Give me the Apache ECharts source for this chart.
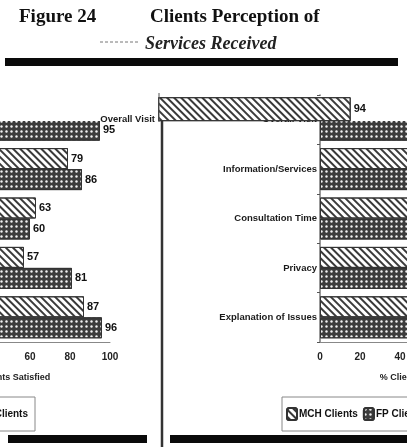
<!DOCTYPE html>
<html>
<head>
<meta charset="utf-8">
<script src="https://cdn.jsdelivr.net/npm/echarts@6/dist/echarts.min.js"></script>
<style>
  html, body { margin: 0; padding: 0; background: #fff; }
  #chart { width: 407px; height: 447px; }
</style>
</head>
<body>
<div id="chart"></div>
<script>
// categories (top to bottom)
var categories = ['Overall Visit', 'Information/Services', 'Consultation Time', 'Privacy', 'Explanation of Issues'];
// left panel (only the right end of that chart is visible)
var mchLeft = ['-', 79, 63, 57, 87];
var fpLeft = [95, 86, 60, 81, 96];
// right panel (bars run off the page, only 94 can be read)
var mchRight = [94, 85, 72, 76, 89];
var fpRight = [97, 91, 80, 86, 95];
var xTicks = [0, 20, 40, 60, 80, 100];

var chart = echarts.init(document.getElementById('chart'));

var LBL = 'Liberation Sans';
var top0 = 95, bottom0 = 105;

var mchStyle = {
  color: '#fff',
  borderColor: '#333',
  borderWidth: 1,
  decal: {
    symbol: 'rect',
    color: '#3a3a3a',
    dashArrayX: [1, 0],
    dashArrayY: [1.5, 3],
    rotation: Math.PI / 4
  }
};
var fpStyle = {
  color: '#3c3c3c',
  borderColor: '#333',
  borderWidth: 1,
  decal: {
    symbol: 'circle',
    symbolSize: 0.8,
    color: '#f2f2f2',
    dashArrayX: [3, 1.5],
    dashArrayY: [3, 1.5]
  }
};

function xAx(grid, showLine) {
  return {
    type: 'value', gridIndex: grid, min: 0, max: 100, interval: 20,
    splitLine: { show: false },
    axisTick: { show: false },
    axisLine: { show: showLine, lineStyle: { color: '#888', width: 1 } },
    axisLabel: { show: showLine, margin: 10, color: '#222', fontFamily: LBL, fontWeight: 'bold', fontSize: 10,
      formatter: function (v) { return xTicks.indexOf(v) >= 0 ? v : ''; } },
    name: showLine ? '% Clients Satisfied' : '',
    nameLocation: 'middle', nameGap: 31,
    nameTextStyle: { color: '#222', fontFamily: LBL, fontWeight: 'bold', fontSize: 9 }
  };
}
function yAx(grid, showLabels, only) {
  var strip = only != null;
  return {
    type: 'category', gridIndex: grid, data: categories, inverse: true,
    axisLine: { show: showLabels && !strip, lineStyle: { color: '#777', width: 1.5 } },
    axisTick: { show: showLabels && !strip, length: 3, lineStyle: { color: '#555' } },
    z: strip ? 10 : 0,
    axisLabel: {
      show: showLabels, margin: 3, color: '#1a1a1a', fontFamily: LBL, fontWeight: 'bold', fontSize: 9.5,
      formatter: function (v, i) { return (!strip || only === i) ? v : ''; }
    }
  };
}
var valLabel = { show: true, position: 'right', distance: 3, color: '#111', fontFamily: LBL, fontWeight: 'bold', fontSize: 11 };

function pick(arr, keep) {
  return arr.map(function (v, i) { return keep(i) ? v : '-'; });
}

var option = {
  backgroundColor: '#fff',
  animation: false,
  title: [
    { text: 'Figure 24', left: 14, top: 3, textStyle: { fontFamily: 'Liberation Serif', fontWeight: 'bold', fontSize: 19, color: '#111' } },
    { text: 'Clients Perception of', left: 145, top: 3, textStyle: { fontFamily: 'Liberation Serif', fontWeight: 'bold', fontSize: 19, color: '#111' } },
    { text: 'Services Received', left: 140, top: 30, textStyle: { fontFamily: 'Liberation Serif', fontWeight: 'bold', fontStyle: 'italic', fontSize: 18, color: '#222' } }
  ],
  legend: [
    { data: ['MCH Clients', 'FP Clients'], left: 282, top: 397, width: 300, padding: [10, 5, 10, 4],
      borderColor: '#888', borderWidth: 1, itemWidth: 10, itemHeight: 12, itemGap: 5,
      textStyle: { fontFamily: LBL, fontWeight: 'bold', fontSize: 10, color: '#111', padding: [0, 0, 0, -3] } },
    { data: ['MCH Clients', 'FP Clients'], right: 372, top: 397, width: 300, padding: [10, 7, 10, 4],
      borderColor: '#888', borderWidth: 1, itemWidth: 10, itemHeight: 12, itemGap: 5,
      textStyle: { fontFamily: LBL, fontWeight: 'bold', fontSize: 10, color: '#111', padding: [0, 0, 0, -3] } }
  ],
  grid: [
    { left: -90, width: 200, top: top0, bottom: bottom0, outerBoundsMode: 'none' },
    { left: 320, width: 200, top: top0, bottom: bottom0, outerBoundsMode: 'none' },
    { left: 158, width: 205, top: top0, bottom: bottom0, outerBoundsMode: 'none' }
  ],
  xAxis: [xAx(0, true), xAx(1, true), xAx(2, false)],
  yAxis: [yAx(0, false), yAx(1, true), yAx(2, true, 0)],
  graphic: [
    { type: 'rect', shape: { x: 5, y: 58, width: 393, height: 8 }, style: { fill: '#0a0a0a' } },
    { type: 'line', shape: { x1: 100, y1: 42, x2: 140, y2: 42 }, style: { stroke: '#777', lineWidth: 1, lineDash: [3, 2] } },
    { type: 'rect', shape: { x: 0, y: 96, width: 407, height: 25 }, style: { fill: '#fff' }, z: 5 },
    { type: 'line', shape: { x1: 159, y1: 93, x2: 159, y2: 122 }, style: { stroke: '#555', lineWidth: 1 }, z: 11 },
    { type: 'line', shape: { x1: 162, y1: 121, x2: 162, y2: 447 }, style: { stroke: '#333', lineWidth: 2.5 } },
    { type: 'rect', shape: { x: 8, y: 435, width: 139, height: 8 }, style: { fill: '#0a0a0a' } },
    { type: 'rect', shape: { x: 170, y: 435, width: 237, height: 8 }, style: { fill: '#0a0a0a' } }
  ],
  series: [
    { name: 'MCH Clients', type: 'bar', xAxisIndex: 0, yAxisIndex: 0, data: mchLeft, barWidth: 21, barGap: '0%', itemStyle: mchStyle, label: valLabel },
    { name: 'FP Clients', type: 'bar', xAxisIndex: 0, yAxisIndex: 0, data: fpLeft, barWidth: 21, barGap: '0%', itemStyle: fpStyle, label: valLabel },
    { name: 'MCH Clients', type: 'bar', xAxisIndex: 1, yAxisIndex: 1, data: pick(mchRight, function (i) { return i > 0; }), barWidth: 21, barGap: '0%', itemStyle: mchStyle, label: valLabel },
    { name: 'FP Clients', type: 'bar', xAxisIndex: 1, yAxisIndex: 1, data: fpRight, barWidth: 21, barGap: '0%', itemStyle: fpStyle, label: valLabel },
    // the "Overall Visit" MCH bar, shifted left in the scan
    { name: 'MCH Clients', type: 'bar', xAxisIndex: 2, yAxisIndex: 2, z: 10, data: pick(mchRight, function (i) { return i === 0; }), barWidth: 24, barGap: '0%', itemStyle: mchStyle, label: valLabel },
    { name: 'FP Clients', type: 'bar', xAxisIndex: 2, yAxisIndex: 2, z: 10, data: pick(fpRight, function () { return false; }), barWidth: 21, barGap: '0%', itemStyle: fpStyle }
  ]
};

chart.setOption(option);
</script>
</body>
</html>
